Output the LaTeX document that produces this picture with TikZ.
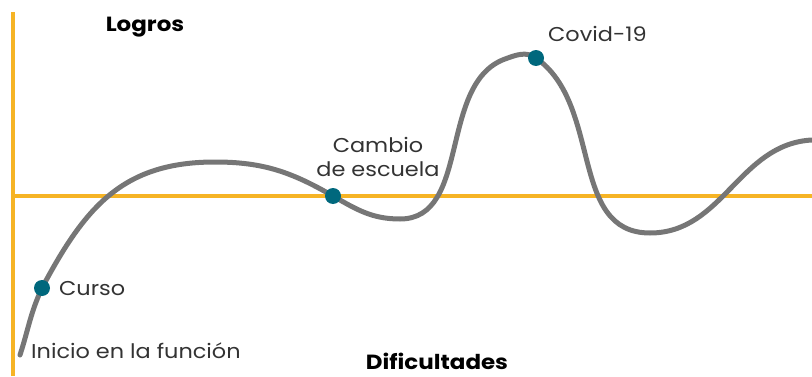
\documentclass[tikz,border=0pt]{standalone}
\usepackage{fontspec}
\setmainfont{Poppins}[FakeStretch=1.12]
\definecolor{ejeamarillo}{HTML}{F6B425}
\definecolor{curvagris}{HTML}{767676}
\definecolor{puntoazul}{HTML}{00687D}
\tikzset{
  eje/.style={draw=ejeamarillo, line width=4pt},
  curva/.style={draw=curvagris, line width=5pt, line cap=round},
  punto/.style={circle, fill=puntoazul, inner sep=0pt, minimum size=16pt},
  etiqueta/.style={font=\fontsize{20}{24}\selectfont, text=black!80, inner sep=0pt},
  titulo/.style={font=\fontsize{20.5}{24}\selectfont\bfseries, inner sep=0pt}
}

\begin{document}
\begin{tikzpicture}[x=1pt,y=1pt]
    \useasboundingbox (0,0) rectangle (812,376);
    % ejes
    \coordinate (ejeabajo) at (13,0);
    \coordinate (ejearriba) at (13,364);
    \coordinate (ejeizq) at (13,180);
    \coordinate (ejeder) at (812,180);
    \path[eje] (ejeabajo) -- (ejearriba);
    \path[eje] (ejeizq) -- (ejeder);
    % curva
    \coordinate (inicio) at (20,21);
    \coordinate (curso) at (42,88);
    \coordinate (cima) at (215,214);
    \coordinate (cambio) at (333,180);
    \coordinate (valle) at (400,157);
    \coordinate (pico) at (505,317);
    \coordinate (covid) at (536,318);
    \coordinate (valle2) at (650,143);
    \coordinate (fin) at (812,236);
    \path[curva] (inicio) to[out=72,in=245] (curso) to[out=62,in=180,looseness=1.1] (cima)
      to[out=0,in=150] (cambio) to[out=-30,in=180] (valle) to[out=0,in=200,looseness=0.95] (pico)
      to[out=20,in=145] (covid) to[out=-35,in=180] (valle2) to[out=0,in=183] (fin);
    \node[punto] (pcurso) at (curso) {};
    \node[punto] (pcambio) at (cambio) {};
    \node[punto] (pcovid) at (covid) {};
    % textos
    \node[titulo] (logros) at (145,349) {Logros};
    \node[titulo] (dificultades) at (437,15) {Dificultades};
    \node[etiqueta, anchor=west] (tcurso) at (59,87) {Curso};
    \node[etiqueta, align=center] (tcambio) at (378,219) {Cambio\\de escuela};
    \node[etiqueta, anchor=west] (tcovid) at (548,342) {Covid-19};
    \node[etiqueta, anchor=west] (tinicio) at (31,25) {Inicio en la función};
\end{tikzpicture}
\end{document}
